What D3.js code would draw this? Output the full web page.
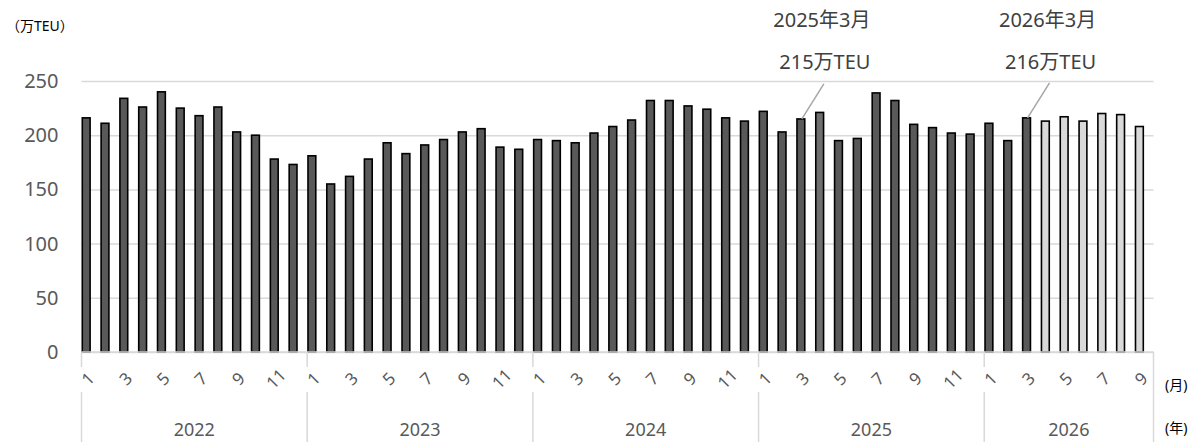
<!DOCTYPE html>
<html><head><meta charset="utf-8">
<script src="https://cdn.jsdelivr.net/npm/d3@7"></script>
<style>
body{margin:0;background:#fff;}
svg{display:block;}
text{font-family:"Noto Sans","Noto Sans CJK JP",sans-serif;}
</style></head>
<body><svg id="c" width="1198" height="442"></svg>
<script>
const years = ["2022","2023","2024","2025","2026"];
const monthsPerYear = [12,12,12,12,9];
const values2022 = [216,211,234,226,240,225,218,226,203,200,178,173];
const values2023 = [181,155,162,178,193,183,191,196,203,206,189,187];
const values2024 = [196,195,193,202,208,214,232,232,227,224,216,213];
const values2025 = [222,203,215,221,195,197,239,232,210,207,202,201];
const values2026 = [211,195,216,213,217,213,220,219,208];
const forecastFrom = "2026-4";
const highlighted = "2025-4";
const yTicks = [0,50,100,150,200,250];
const annotations = [
  {key:"2025-3", line1:"2025年3月", line2:"215万TEU"},
  {key:"2026-3", line1:"2026年3月", line2:"216万TEU"}
];
const yUnit = "（万TEU）", monthUnit = "(月)", yearUnit = "(年)";

const allVals = [values2022,values2023,values2024,values2025,values2026];
const data = [];
years.forEach((y,yi)=>{ allVals[yi].forEach((v,mi)=>data.push({year:y,month:mi+1,key:y+"-"+(mi+1),value:v})); });
const fIdx = data.findIndex(d=>d.key===forecastFrom);
data.forEach((d,i)=>d.forecast = i>=fIdx);

const svg = d3.select("#c");
const L=81.5, R=1153.5, T=81, B=352;
const x = d3.scaleBand().domain(data.map(d=>d.key)).range([L,R]).padding(0);
const y = d3.scaleLinear().domain([0,250]).range([B,T]);
const bw = x.bandwidth();

// grid + y labels
const ya = svg.append("g").attr("transform",`translate(${L},0)`)
  .call(d3.axisLeft(y).tickValues(yTicks).tickSize(-(R-L)).tickPadding(23));
ya.select(".domain").remove();
ya.selectAll(".tick line").attr("stroke","#d9d9d9").attr("stroke-width",1.5);
ya.selectAll(".tick text").attr("fill","#595959").attr("font-size",20)
  .attr("font-family","'Noto Sans',sans-serif");

// bars
svg.append("g").selectAll("rect").data(data).join("rect")
  .attr("x",d=>x(d.key)+0.8)
  .attr("width",bw*0.5-1.6)
  .attr("y",d=>y(d.value))
  .attr("height",d=>y(0)-y(d.value))
  .attr("fill",d=>d.forecast?"#d9d9d9":(d.key===highlighted?"#6f6f6f":"#595959"))
  .attr("stroke","#000").attr("stroke-width",1.6);

// baseline
svg.append("line").attr("x1",L).attr("x2",R).attr("y1",B).attr("y2",B)
  .attr("stroke","#d9d9d9").attr("stroke-width",1.5);

// month labels (odd months, rotated -45deg)
svg.append("g").selectAll("text").data(data.filter(d=>d.month%2===1)).join("text")
  .attr("x",d=>x(d.key)+bw*0.25+1.5).attr("y",379)
  .attr("text-anchor","middle").attr("dy","0.35em")
  .attr("fill","#595959").attr("font-size",17)
  .style("transform-box","fill-box").style("transform-origin","center")
  .style("transform","rotate(-45deg)")
  .text(d=>d.month);

// year group separators and labels
let start=0;
const boundaries=[];
years.forEach((yr,yi)=>{
  const first=data[start].key, last=data[start+monthsPerYear[yi]-1].key;
  const x0=x(first), x1=x(last)+bw;
  boundaries.push(x0);
  svg.append("text").attr("x",(x0+x1)/2).attr("y",429).attr("text-anchor","middle")
    .attr("dominant-baseline","central").attr("fill","#595959").attr("font-size",18).text(yr);
  start+=monthsPerYear[yi];
});
boundaries.forEach(bx=>{
  svg.append("line").attr("x1",bx).attr("x2",bx).attr("y1",B).attr("y2",367).attr("stroke","#d9d9d9").attr("stroke-width",1.5);
  svg.append("line").attr("x1",bx).attr("x2",bx).attr("y1",392).attr("y2",442).attr("stroke","#d9d9d9").attr("stroke-width",1.5);
});
svg.append("line").attr("x1",R).attr("x2",R).attr("y1",B).attr("y2",442).attr("stroke","#d9d9d9").attr("stroke-width",1.5);

// units
svg.append("text").attr("x",6).attr("y",25).attr("dominant-baseline","central")
  .attr("fill","#000").attr("font-size",14).attr("font-family","'Noto Sans CJK JP',sans-serif").text(yUnit);
svg.append("text").attr("x",1165).attr("y",384).attr("dominant-baseline","central")
  .attr("fill","#000").attr("font-size",14).attr("font-family","'Noto Sans CJK JP',sans-serif").text(monthUnit);
svg.append("text").attr("x",1165).attr("y",427).attr("dominant-baseline","central")
  .attr("fill","#000").attr("font-size",14).attr("font-family","'Noto Sans CJK JP',sans-serif").text(yearUnit);

// annotations
annotations.forEach(a=>{
  const d=data.find(e=>e.key===a.key);
  const cx=x(d.key)+bw*0.25;
  const ty=y(d.value);
  svg.append("line").attr("x1",cx+1).attr("y1",ty).attr("x2",cx+23).attr("y2",ty-35)
    .attr("stroke","#a6a6a6").attr("stroke-width",1.5);
  svg.append("text").attr("x",cx+21).attr("y",19).attr("text-anchor","middle").attr("dominant-baseline","central")
    .attr("fill","#404040").attr("font-size",20).attr("font-family","'Noto Sans CJK JP',sans-serif").text(a.line1);
  svg.append("text").attr("x",cx+24).attr("y",61).attr("text-anchor","middle").attr("dominant-baseline","central")
    .attr("fill","#404040").attr("font-size",20).attr("font-family","'Noto Sans CJK JP',sans-serif").text(a.line2);
});
</script></body></html>
